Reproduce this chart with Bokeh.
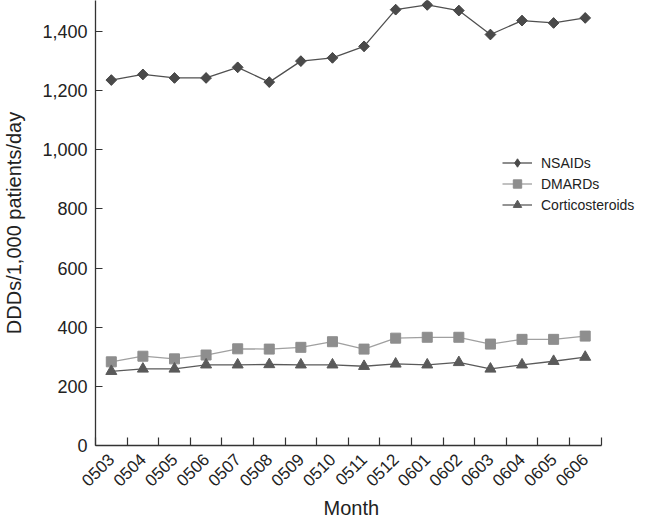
import math
from bokeh.plotting import figure
from bokeh.models import (Range1d, FixedTicker, NumeralTickFormatter, Legend, LegendItem,
                          ColumnDataSource, Title)
from bokeh.embed import file_html
from bokeh.resources import INLINE

# ---- data ----
months = ["0503", "0504", "0505", "0506", "0507", "0508", "0509", "0510",
          "0511", "0512", "0601", "0602", "0603", "0604", "0605", "0606"]
nsaids = [1236, 1255, 1243, 1243, 1279, 1229, 1300, 1311,
          1350, 1474, 1490, 1471, 1390, 1437, 1429, 1446]
dmards = [283, 302, 293, 306, 327, 326, 332, 351,
          326, 363, 366, 366, 343, 359, 359, 370]
corticosteroids = [251, 259, 259, 273, 273, 274, 273, 273,
                   268, 276, 273, 281, 259, 273, 285, 299]
y_ticks = [0, 200, 400, 600, 800, 1000, 1200, 1400]

FONT = "Liberation Sans"
TXT = "#222222"
C_N = "#4a4a4a"
C_D = "#8e8e8e"
C_C = "#5a5a5a"

n = len(months)
xpos = [i + 0.5 for i in range(n)]
src = ColumnDataSource(dict(x=xpos, m=months, n=nsaids, d=dmards, c=corticosteroids))

p = figure(width=640, height=519, output_backend="svg", toolbar_location=None,
           x_range=Range1d(0, n + 1.25), y_range=Range1d(0, 1505),
           min_border_left=90, min_border_right=0, min_border_top=0, min_border_bottom=74)
p.grid.visible = False
p.outline_line_color = None
p.background_fill_color = "white"

# series
ln_n = p.line("x", "n", source=src, line_color="#505050", line_width=1.3)
# diamond glyph (sits inside the rotated square) used for the legend swatch
dm_n = p.scatter("x", "n", source=src, marker="diamond", size=10,
                 fill_color=C_N, line_color=C_N)
mk_n = p.scatter("x", "n", source=src, marker="square", angle=math.pi / 4, size=7.6,
                 fill_color=C_N, line_color=C_N)
ln_d = p.line("x", "d", source=src, line_color="#a0a0a0", line_width=1.3)
mk_d = p.scatter("x", "d", source=src, marker="square", size=10,
                 fill_color=C_D, line_color=C_D)
ln_c = p.line("x", "c", source=src, line_color="#5a5a5a", line_width=1.3)
mk_c = p.scatter("x", "c", source=src, marker="triangle", size=11,
                 fill_color=C_C, line_color=C_C)

# x axis
xa = p.xaxis[0]
xa.bounds = (0, n)
xa.ticker = FixedTicker(ticks=xpos, minor_ticks=list(range(0, n + 1)))
xa.major_label_overrides = {x: m for x, m in zip(xpos, months)}
xa.major_label_orientation = math.pi / 4
xa.major_tick_in = 0
xa.major_tick_out = 0
xa.minor_tick_in = 8
xa.minor_tick_out = 0
xa.major_label_standoff = 11
xa.major_label_text_font = FONT
xa.major_label_text_font_size = "17px"
xa.major_label_text_color = TXT

month_title = Title(text="Month", align="left", offset=228, standoff=0,
                    text_font=FONT, text_font_size="20px", text_font_style="normal",
                    text_color=TXT)
p.add_layout(month_title, "below")

# y axis
ya = p.yaxis[0]
ya.ticker = FixedTicker(ticks=y_ticks)
ya.formatter = NumeralTickFormatter(format="0,0")
ya.major_tick_in = 7
ya.major_tick_out = 0
ya.minor_tick_in = 0
ya.minor_tick_out = 0
ya.major_label_standoff = 8
ya.axis_label = "DDDs/1,000 patients/day"
ya.axis_label_text_font = FONT
ya.axis_label_text_font_size = "20px"
ya.axis_label_text_font_style = "normal"
ya.axis_label_text_color = TXT
ya.axis_label_standoff = 14
ya.major_label_text_font = FONT
ya.major_label_text_font_size = "18px"
ya.major_label_text_color = TXT

for ax in (xa, ya):
    ax.axis_line_color = "#333333"
    ax.axis_line_width = 1.3
    ax.major_tick_line_color = "#333333"
    ax.minor_tick_line_color = "#333333"
    ax.major_tick_line_width = 1.2
    ax.minor_tick_line_width = 1.2

legend = Legend(items=[
    LegendItem(label="NSAIDs", renderers=[ln_n, dm_n]),
    LegendItem(label="DMARDs", renderers=[ln_d, mk_d]),
    LegendItem(label="Corticosteroids", renderers=[ln_c, mk_c]),
], location=(407, 230))
legend.border_line_color = None
legend.background_fill_alpha = 0
legend.padding = 0
legend.margin = 0
legend.spacing = 0
legend.glyph_width = 30
legend.glyph_height = 21
legend.label_height = 21
legend.label_standoff = 9
legend.label_text_font = FONT
legend.label_text_font_size = "14px"
legend.label_text_color = TXT
p.add_layout(legend, "center")

open("out.html", "w").write(file_html(p, INLINE))
